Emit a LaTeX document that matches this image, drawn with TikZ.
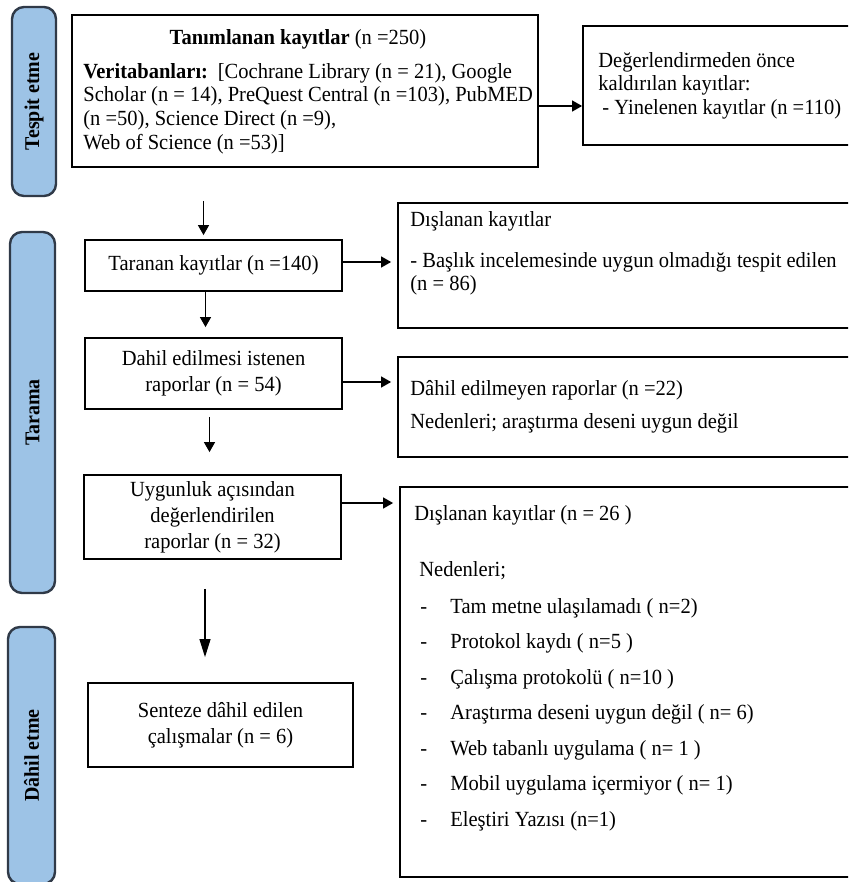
\documentclass[tikz,border=0pt]{standalone}
\usepackage{fontspec}
\setmainfont{Liberation Serif}[FakeStretch=0.95]
\usepackage{tikz}
\usetikzlibrary{arrows.meta,calc}

\definecolor{phasefill}{RGB}{157,195,230}
\definecolor{phaseline}{RGB}{48,58,72}

\tikzset{
  box/.style={draw=black, line width=0.9pt, inner sep=0pt, align=center},
  lbox/.style={box, font=\fontsize{10.8}{13}\selectfont},
  phase/.style={draw=phaseline, fill=phasefill, line width=1.2pt, rounded corners=6pt,
    rotate=90, inner sep=0pt, font=\fontsize{10.5}{12}\selectfont\bfseries},
  txt/.style={inner sep=0pt, align=left, anchor=north west},
  arr/.style={line width=0.6pt, -{Triangle[length=5pt,width=5.5pt]}},
  bigarr/.style={line width=0.6pt, -{Triangle[length=9pt,width=5.5pt]}},
}

\begin{document}
\begin{tikzpicture}[x=0.5pt,y=-0.5pt,font=\fontsize{10.8}{11.8}\selectfont]
  %%%%% FRAME %%%%%
  \clip (0,0) rectangle (848,882);

  %%%%% PHASES %%%%%
  \node[phase, minimum width=94.5pt, minimum height=22pt] (tespit) at (34,101.5) {Tespit etme};
  \node[phase, minimum width=180.5pt, minimum height=22.5pt] (tarama) at (32.5,412.5) {Tarama};
  \node[phase, minimum width=128.5pt, minimum height=23.5pt] (dahil) at (31.5,755.5) {Dâhil etme};

  %%%%% LEFT COLUMN %%%%%
  \node[box, minimum width=233pt, minimum height=76pt] (ident) at (305,91) {};
  \node[inner sep=0pt] (identt) at (298,39) {\textbf{Tanımlanan kayıtlar} (n =250)};
  \node[txt] (identb) at (83,63) {\textbf{Veritabanları:}\hspace{1.5pt} [Cochrane Library (n = 21), Google\\
    Scholar (n = 14), PreQuest Central (n =103), PubMED\\
    (n =50), Science Direct (n =9),\\
    Web of Science (n =53)]};

  \node[lbox, minimum width=128.5pt, minimum height=25.5pt] (scr) at (213.5,265.5) {Taranan kayıtlar (n =140)};
  \node[lbox, minimum width=128.5pt, minimum height=35.5pt] (req) at (213.5,373.5) {Dahil edilmesi istenen\\raporlar (n = 54)};
  \node[lbox, minimum width=128.5pt, minimum height=42pt] (elig) at (212.5,517) {Uygunluk açısından\\değerlendirilen\\raporlar (n = 32)};
  \node[lbox, minimum width=132.5pt, minimum height=42pt] (incl) at (220.5,725) {Senteze dâhil edilen\\çalışmalar (n = 6)};

  %%%%% RIGHT COLUMN %%%%%
  \node[box, minimum width=143.5pt, minimum height=59.5pt] (dup) at (726.5,85.5) {};
  \node[txt] (dupt) at (598,52) {Değerlendirmeden önce\\kaldırılan kayıtlar:\\\hspace{2pt}- Yinelenen kayıtlar (n =110)};

  \node[box, minimum width=236pt, minimum height=62.5pt] (exc1) at (634,265.5) {};
  \node[txt] (exc1t) at (410,211) {Dışlanan kayıtlar\\[8.7pt]- Başlık incelemesinde uygun olmadığı tespit edilen\\(n = 86)};

  \node[box, minimum width=236pt, minimum height=50pt] (nrep) at (634,407) {};
  \node[txt] (nrept) at (410,380) {Dâhil edilmeyen raporlar (n =22)\\[4.7pt]Nedenleri; araştırma deseni uygun değil};

  \node[box, minimum width=235pt, minimum height=195pt] (exc2) at (635,682) {};
  \node[txt, font=\fontsize{10.8}{17.75}\selectfont] (exc2t) at (414,505) {Dışlanan kayıtlar (n = 26 )\\[10.25pt]
    \hspace{2.5pt}Nedenleri;\\[0.75pt]
    \hspace{3pt}\makebox[15pt][l]{-}Tam metne ulaşılamadı ( n=2)\\
    \hspace{3pt}\makebox[15pt][l]{-}Protokol kaydı ( n=5 )\\
    \hspace{3pt}\makebox[15pt][l]{-}Çalışma protokolü ( n=10 )\\
    \hspace{3pt}\makebox[15pt][l]{-}Araştırma deseni uygun değil ( n= 6)\\
    \hspace{3pt}\makebox[15pt][l]{-}Web tabanlı uygulama ( n= 1 )\\
    \hspace{3pt}\makebox[15pt][l]{-}Mobil uygulama içermiyor ( n= 1)\\
    \hspace{3pt}\makebox[15pt][l]{-}Eleştiri Yazısı (n=1)};

  %%%%% ARROWS %%%%%
  \draw[arr] ([yshift=-7.5pt]ident.east) -- ($(ident.east -| dup.west)+(0,-7.5pt)$);
  \draw[arr, shorten <=16.5pt, shorten >=2pt] ($(scr.north |- ident.south)+(-5pt,0)$) -- ([xshift=-5pt]scr.north);
  \draw[arr, shorten >=5pt] ([xshift=-4pt]scr.south) -- ([xshift=-4pt]req.north);
  \draw[arr, shorten <=3.5pt, shorten >=11pt] ([xshift=-2pt]req.south) -- ($(req.south |- elig.north)+(-2pt,0)$);
  \draw[bigarr, shorten <=14.5pt, shorten >=12.5pt] ([xshift=-3.75pt]elig.south) -- ($(elig.south |- incl.north)+(-3.75pt,0)$);

  \draw[arr, shorten >=3pt] ([yshift=1.75pt]scr.east) -- ($(scr.east -| exc1.west)+(0,1.75pt)$);
  \draw[arr, shorten >=3pt] ([yshift=-4.25pt]req.east) -- ($(req.east -| nrep.west)+(0,-4.25pt)$);
  \draw[arr, shorten >=3pt] ([yshift=7pt]elig.east) -- ($(elig.east -| exc2.west)+(0,7pt)$);
\end{tikzpicture}
\end{document}
